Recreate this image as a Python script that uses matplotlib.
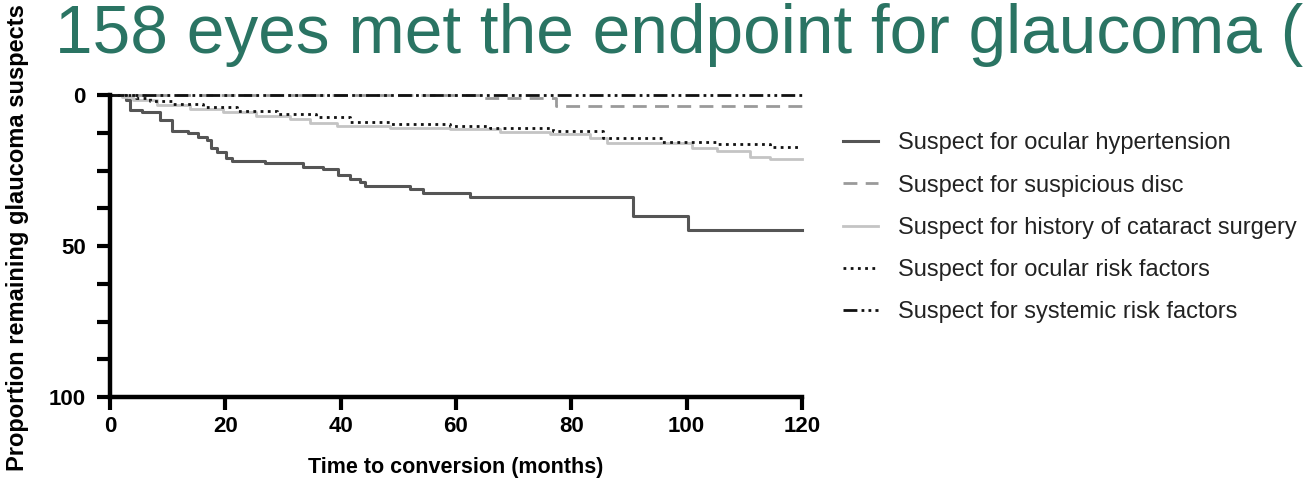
import matplotlib
matplotlib.use("Agg")
import matplotlib.pyplot as plt

# ---- data ----
oht_t = [0, 2.8, 3.5, 5.5, 8.7, 10.7, 13.6, 15.3, 16.8, 17.6, 18.5, 20.2, 21.1, 26.9, 33.5, 37.0, 39.6, 41.6, 43.3, 44.2, 52.0, 54.3, 62.4, 90.7, 100.3, 120]
oht_v = [0, 1.5, 5.0, 5.7, 8.3, 11.9, 12.7, 13.8, 14.9, 17.7, 18.8, 20.7, 21.7, 22.6, 23.7, 24.6, 26.5, 27.8, 28.9, 30.1, 31.2, 32.6, 33.9, 40.1, 44.7, 44.7]

disc_t = [0, 64.7, 77.4, 120]
disc_v = [0, 1.1, 3.7, 3.7]

cat_t = [0, 2.0, 4.0, 8.1, 13.9, 19.6, 25.4, 31.2, 34.7, 39.3, 48.6, 59.0, 67.6, 76.3, 83.2, 86.1, 101.0, 105.2, 111.0, 114.4, 120]
cat_v = [0, 0.8, 1.7, 3.3, 4.6, 5.5, 7.0, 8.0, 9.2, 10.2, 11.0, 11.4, 12.4, 13.0, 14.4, 16.0, 17.7, 18.5, 20.4, 21.3, 21.3]

ocu_t = [0, 4.5, 6.9, 11.0, 16.2, 22.0, 28.9, 35.8, 41.6, 48.6, 59.0, 65.9, 76.9, 85.5, 95.7, 105.5, 114.4, 119.5]
ocu_v = [0, 1.1, 1.9, 3.0, 4.1, 5.2, 6.3, 7.4, 8.8, 9.7, 10.2, 10.8, 11.8, 14.1, 15.5, 16.2, 17.3, 17.3]

sys_t = [0, 120]
sys_v = [0, 0]

labels = ["Suspect for ocular hypertension",
          "Suspect for suspicious disc",
          "Suspect for history of cataract surgery",
          "Suspect for ocular risk factors",
          "Suspect for systemic risk factors"]

x_ticks = [0, 20, 40, 60, 80, 100, 120]
y_major = [0, 50, 100]
y_minor = [12.5, 25, 37.5, 62.5, 75, 87.5]

title = "158 eyes met the endpoint for glaucoma ("
xlabel = "Time to conversion (months)"
ylabel = "Proportion remaining glaucoma suspects"

# ---- figure ----
fig = plt.figure(figsize=(13.04, 4.8), dpi=100)
ax = fig.add_axes([110/1304, 1-397/480, (802-110)/1304, (397-95)/480])

styles = [
    dict(color="#555555", lw=2.2, ls="-"),
    dict(color="#9a9a9a", lw=2.0, ls=(0, (5, 3))),
    dict(color="#c4c4c4", lw=2.0, ls="-"),
    dict(color="#111111", lw=2.0, ls=(0, (1, 1.6))),
    dict(color="#111111", lw=2.0, ls=(0, (5, 1.5, 1, 1.5, 1, 1.5))),
]
series = [(oht_t, oht_v), (disc_t, disc_v), (cat_t, cat_v), (ocu_t, ocu_v), (sys_t, sys_v)]
handles = []
for (t, v), st, lab in zip(series, styles, labels):
    h, = ax.step(t, v, where="post", label=lab, clip_on=False, **st)
    handles.append(h)

ax.set_xlim(0, 120)
ax.set_ylim(100, 0)
for s in ["top", "right"]:
    ax.spines[s].set_visible(False)
for s in ["left", "bottom"]:
    ax.spines[s].set_linewidth(3.2)
ax.set_xticks(x_ticks)
ax.set_yticks(y_major)
ax.set_yticks(y_minor, minor=True)
ax.tick_params(axis="both", which="both", width=3, length=9.5, color="black", pad=4)
ax.tick_params(axis="y", which="major", pad=8)
ax.set_xticklabels([str(v) for v in x_ticks],
                   fontdict=dict(family=["Liberation Sans"], weight="bold", size=16))
ax.set_yticklabels([str(v) for v in y_major],
                   fontdict=dict(family=["Liberation Sans"], weight="bold", size=16))

fig.text(456/1304, 1-467/480, xlabel, ha="center", va="center",
         family=["Liberation Sans"], weight="bold", size=15.5)
fig.text(18/1304, 1-238/480, ylabel, ha="center", va="center", rotation=90,
         family=["Liberation Sans"], weight="bold", size=17)

fig.text(55/1304, 1-53/480, title, ha="left", va="baseline",
         family=["Liberation Sans"], size=48.7, color="#2a7463")

leg = fig.legend(handles=handles, labels=labels, loc="upper left",
                 bbox_to_anchor=(822/1304, 1-111/480), frameon=False,
                 prop=dict(family="Liberation Sans", size=17),
                 handlelength=1.48, handletextpad=0.85, labelspacing=0.86)
for t in leg.get_texts():
    t.set_color("#222222")

fig.savefig("out.png", dpi=100)
